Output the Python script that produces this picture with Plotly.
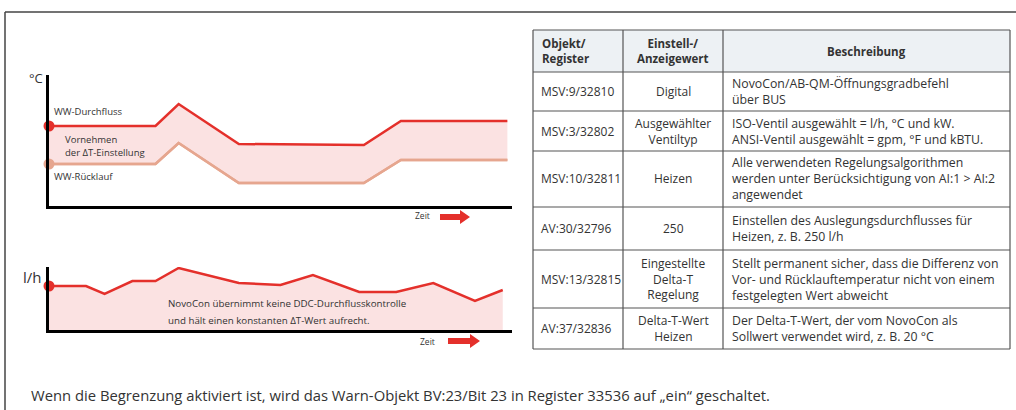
import plotly.graph_objects as go

# ---------------- data ----------------
# Temperature chart (arbitrary time units 0..100)
temp_time = [0, 23, 28, 41, 68, 76, 99]
flow_temp = [40, 40, 51, 31, 30.5, 42.5, 42.5]      # WW-Durchfluss (°C)
return_temp = [21, 21, 31.5, 11.5, 11.5, 23, 23]    # WW-Rücklauf (°C)

# Flow chart (l/h)
flow_time = [0, 8, 12, 18, 23, 28, 41, 50, 57, 67, 75, 83, 92, 98]
flow_lh = [220, 220, 180, 245, 245, 310, 235, 225, 275, 190, 190, 235, 145, 200]

# Table
table_header = ["Objekt/<br>Register", "Einstell-/<br>Anzeigewert", "Beschreibung"]
col_objekt = ["MSV:9/32810", "MSV:3/32802", "MSV:10/32811", "AV:30/32796",
              "MSV:13/32815", "AV:37/32836"]
col_wert = ["Digital", "Ausgewählter<br>Ventiltyp", "Heizen", "250",
            "Eingestellte<br>Delta-T<br>Regelung", "Delta-T-Wert<br>Heizen"]
col_beschreibung = [
    "NovoCon/AB-QM-Öffnungsgradbefehl<br>über BUS",
    "ISO-Ventil ausgewählt = l/h, °C und kW.<br>ANSI-Ventil ausgewählt = gpm, °F und kBTU.",
    "Alle verwendeten Regelungsalgorithmen<br>werden unter Berücksichtigung von AI:1 > AI:2<br>angewendet",
    "Einstellen des Auslegungsdurchflusses für<br>Heizen, z. B. 250 l/h",
    "Stellt permanent sicher, dass die Differenz von<br>Vor- und Rücklauftemperatur nicht von einem<br>festgelegten Wert abweicht",
    "Der Delta-T-Wert, der vom NovoCon als<br>Sollwert verwendet wird, z. B. 20 °C",
]
footer_text = "Wenn die Begrenzung aktiviert ist, wird das Warn-Objekt BV:23/Bit 23 in Register 33536 auf „ein“ geschaltet."

# ---------------- layout helpers ----------------
W, H = 1016, 410
FONT = "Open Sans"
TXT = "#333333"
RED = "#e4302b"
SALMON = "#e6a68f"
FILL = "rgba(251,226,226,1)"


def px(x):
    return x / W


def py(y):
    return 1 - y / H


fig = go.Figure()

# --- temperature chart ---
fig.add_trace(go.Scatter(x=temp_time, y=return_temp, mode="lines",
                         line=dict(color=SALMON, width=2.5), xaxis="x", yaxis="y",
                         hoverinfo="skip", showlegend=False))
fig.add_trace(go.Scatter(x=temp_time, y=flow_temp, mode="lines", fill="tonexty",
                         fillcolor=FILL, line=dict(color=RED, width=2.5),
                         xaxis="x", yaxis="y", hoverinfo="skip", showlegend=False))
fig.add_trace(go.Scatter(x=temp_time, y=return_temp, mode="lines",
                         line=dict(color=SALMON, width=2.5), xaxis="x", yaxis="y",
                         hoverinfo="skip", showlegend=False))
fig.add_trace(go.Scatter(x=[temp_time[0], temp_time[0]], y=[flow_temp[0], return_temp[0]],
                         mode="markers", marker=dict(size=11, color=[RED, SALMON]),
                         cliponaxis=False, xaxis="x", yaxis="y", hoverinfo="skip",
                         showlegend=False))

# --- flow chart ---
fig.add_trace(go.Scatter(x=flow_time, y=flow_lh, mode="lines", fill="tozeroy",
                         fillcolor=FILL, line=dict(color=RED, width=2.5),
                         xaxis="x2", yaxis="y2", hoverinfo="skip", showlegend=False))
fig.add_trace(go.Scatter(x=[flow_time[0]], y=[flow_lh[0]], mode="markers",
                         marker=dict(size=11, color=RED), cliponaxis=False,
                         xaxis="x2", yaxis="y2", hoverinfo="skip", showlegend=False))

axis_common = dict(showline=True, linecolor="black", linewidth=3, showgrid=False,
                   zeroline=False, showticklabels=False, ticks="", fixedrange=True)

fig.update_layout(
    width=W, height=H,
    margin=dict(l=0, r=0, t=0, b=0),
    paper_bgcolor="white", plot_bgcolor="rgba(0,0,0,0)",
    font=dict(family=FONT, color=TXT),
    xaxis=dict(domain=[px(49), px(512)], range=[0, 100], anchor="y", **axis_common),
    yaxis=dict(domain=[py(206), py(75)], range=[0, 65.5], anchor="x", **axis_common),
    xaxis2=dict(domain=[px(49), px(512)], range=[0, 100], anchor="y2", **axis_common),
    yaxis2=dict(domain=[py(330), py(267)], range=[0, 315], anchor="x2", **axis_common),
)

shapes = []
annotations = []


def text(x, y, s, size=12, xanchor="left", yanchor="middle", align="left", color=TXT):
    annotations.append(dict(x=px(x), y=py(y), xref="paper", yref="paper", text=s,
                            showarrow=False, xanchor=xanchor, yanchor=yanchor,
                            align=align, font=dict(size=size, color=color, family=FONT)))


def line(x0, y0, x1, y1, color="#555555", width=1.2):
    shapes.append(dict(type="line", xref="paper", yref="paper", x0=px(x0), y0=py(y0),
                       x1=px(x1), y1=py(y1), line=dict(color=color, width=width)))


def arrow(x0, y, x1):
    # red block arrow pointing right
    hx = x1 - 10
    pts = [(x0, y - 3), (hx, y - 3), (hx, y - 7), (x1, y), (hx, y + 7), (hx, y + 3), (x0, y + 3)]
    path = "M " + " L ".join(f"{px(a):.5f},{py(b):.5f}" for a, b in pts) + " Z"
    shapes.append(dict(type="path", xref="paper", yref="paper", path=path,
                       fillcolor=RED, line=dict(width=0)))


# outer frame
line(5, 12, 1016, 12, color="#444444", width=1.5)
line(5, 12, 5, 410, color="#444444", width=1.5)

# chart labels
text(27, 78, "°C", size=13)
text(52, 111, "WW-Durchfluss", size=9.5)
text(63, 139, "Vornehmen", size=9.5)
text(63, 152, "der ΔT-Einstellung", size=9.5)
text(52, 177, "WW-Rücklauf", size=9.5)
text(413, 215, "Zeit", size=8.5)
arrow(440, 217, 470)

text(21, 277, "l/h", size=15)
text(166, 303, "NovoCon übernimmt keine DDC-Durchflusskontrolle", size=9.75)
text(166, 320, "und hält einen konstanten ΔT-Wert aufrecht.", size=9.75)
text(418, 341, "Zeit", size=8.5)
arrow(448, 341, 480)

# table
cols_x = [533, 623, 723, 1010]
rows_y = [30, 72, 111, 151, 207, 250, 308, 349]
shapes.append(dict(type="rect", xref="paper", yref="paper", x0=px(cols_x[0]), x1=px(cols_x[-1]),
                   y0=py(rows_y[0]), y1=py(rows_y[1]), fillcolor="#edf1f4",
                   line=dict(width=0), layer="below"))
for yy in rows_y:
    line(cols_x[0], yy, cols_x[-1], yy)
for xx in cols_x:
    line(xx, rows_y[0], xx, rows_y[-1])

hc = (rows_y[0] + rows_y[1]) / 2
text(540, hc, "<b>" + table_header[0] + "</b>", size=11.5)
text((cols_x[1] + cols_x[2]) / 2, hc, "<b>" + table_header[1] + "</b>", size=11.5,
     xanchor="center", align="center")
text((cols_x[2] + cols_x[3]) / 2, hc, "<b>" + table_header[2] + "</b>", size=11.5,
     xanchor="center", align="center")

for i in range(len(col_objekt)):
    yc = (rows_y[i + 1] + rows_y[i + 2]) / 2
    text(539, yc, col_objekt[i], size=12)
    text((cols_x[1] + cols_x[2]) / 2, yc, col_wert[i], size=12, xanchor="center", align="center")
    text(730, yc, col_beschreibung[i], size=12.3)

# footer
text(29, 395, footer_text, size=14.8)

fig.update_layout(shapes=shapes, annotations=annotations)

fig.write_html("out.html", config={"displayModeBar": False, "staticPlot": True},
               post_script="document.body.style.margin='0px';")
